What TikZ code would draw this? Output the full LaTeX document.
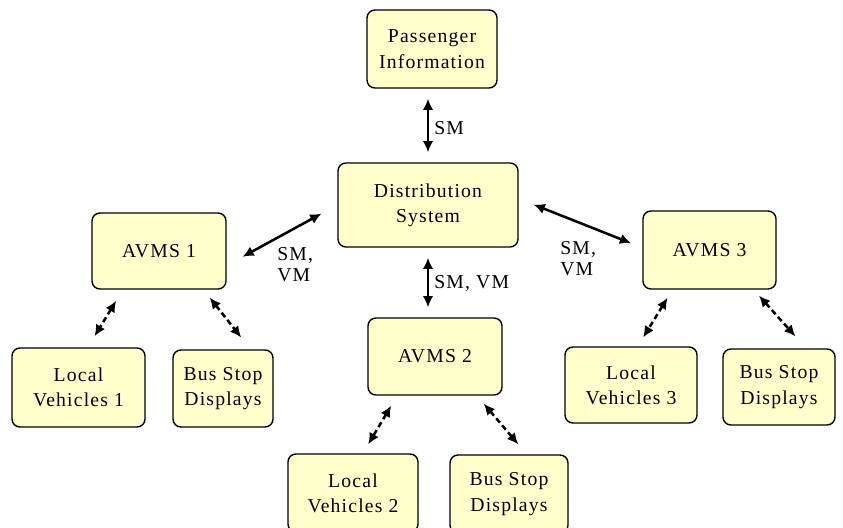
\documentclass[tikz,border=0pt]{standalone}
\usepackage{fontspec}
\setmainfont{Liberation Serif}[LetterSpace=6]
\usetikzlibrary{arrows.meta}
\definecolor{boxfill}{HTML}{FFFFCC}
\tikzset{
  box/.style={draw, rounded corners=0.2cm, fill=boxfill, align=center, inner sep=0pt,
    line width=1pt, font=\fontsize{14}{18}\selectfont},
  link/.style={{Latex[length=8pt,width=7.5pt]}-{Latex[length=8pt,width=7.5pt]}, line width=1.8pt},
  dlink/.style={link, dash pattern=on 4pt off 2.5pt},
  lbl/.style={font=\fontsize{14}{14.5}\selectfont, align=left, inner sep=0pt, anchor=west}
}
\begin{document}
\begin{tikzpicture}[x=0.025cm,y=-0.025cm]
            \useasboundingbox (0,0) rectangle (843,527);
            \clip (0,0) rectangle (843,527);
            % Nodes
            \node[box,minimum width=3.25cm,minimum height=1.95cm] (pi) at (432,49) {Passenger\\Information};
            \node[box,minimum width=4.5cm,minimum height=2.1cm] (ds) at (428,205) {Distribution\\System};
            \node[box,minimum width=3.35cm,minimum height=1.9cm] (a1) at (159,251) {AVMS 1};
            \node[box,minimum width=3.35cm,minimum height=1.925cm] (a2) at (435,356.5) {AVMS 2};
            \node[box,minimum width=3.325cm,minimum height=1.95cm] (a3) at (709.5,250) {AVMS 3};
            \node[box,minimum width=3.325cm,minimum height=1.975cm] (lv1) at (78.5,387.5) {Local\\Vehicles 1};
            \node[box,minimum width=2.5cm,minimum height=1.925cm] (bs1) at (223,388.5) {Bus Stop\\Displays};
            \node[box,minimum width=3.25cm,minimum height=1.95cm] (lv2) at (353,493) {Local\\Vehicles 2};
            \node[box,minimum width=2.95cm,minimum height=1.95cm] (bs2) at (509,494) {Bus Stop\\Displays};
            \node[box,minimum width=3.3cm,minimum height=1.9cm] (lv3) at (631,385) {Local\\Vehicles 3};
            \node[box,minimum width=2.8cm,minimum height=1.9cm] (bs3) at (779,387) {Bus Stop\\Displays};
            % Labels
            \node[lbl] (l0) at (434,128) {SM};
            \node[lbl] (l1) at (277,264.5) {SM,\\VM};
            \node[lbl] (l2) at (434,283) {SM, VM};
            \node[lbl] (l3) at (560,258.5) {SM,\\VM};
            % Edges
            \draw[link,shorten <=0.25cm,shorten >=0.25cm] (ds.north |- pi.south) -- (ds.north);
            \draw[link,shorten <=0.25cm,shorten >=0.25cm] (ds.south) -- (ds.south |- a2.north);
            \draw[link,shorten <=0.45cm,shorten >=0.45cm] (ds.west) -- (a1.-12);
            \draw[link,shorten <=0.4cm,shorten >=0.3cm] (ds.4) -- (a3.178);
            \draw[dlink,shorten <=0.325cm,shorten >=0.325cm] (a1.-133) -- (lv1.77);
            \draw[dlink,shorten <=0.25cm,shorten >=0.375cm] (a1.-41) -- (bs1.55);
            \draw[dlink,shorten <=0.29cm,shorten >=0.26cm] (a2.-134) -- (lv2.76);
            \draw[dlink,shorten <=0.26cm,shorten >=0.325cm] (a2.-43) -- (bs2.66);
            \draw[dlink,shorten <=0.235cm,shorten >=0.26cm] (a3.-133) -- (lv3.80);
            \draw[dlink,shorten <=0.2cm,shorten >=0.4cm] (a3.-42) -- (bs3.55);
        \end{tikzpicture}
\end{document}
